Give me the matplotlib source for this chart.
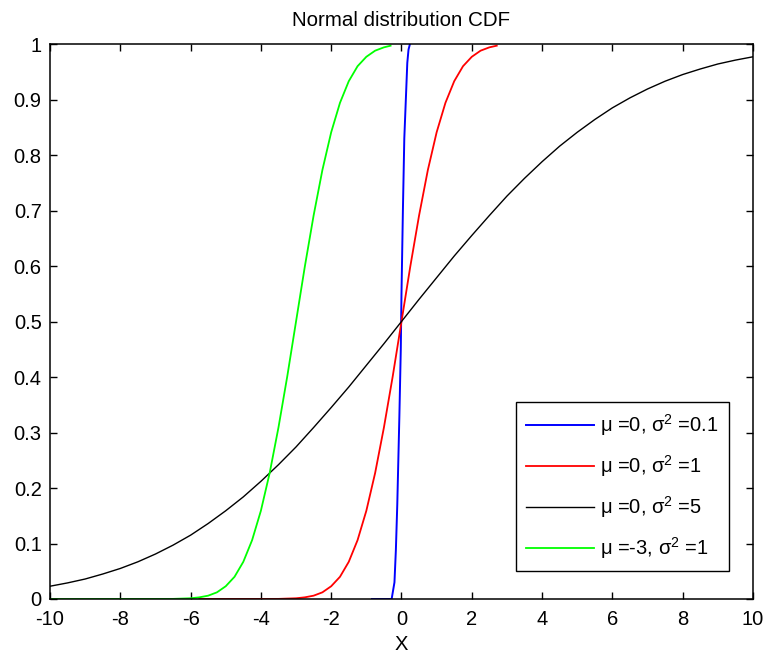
import matplotlib
matplotlib.use("Agg")
import matplotlib.pyplot as plt

plt.rcParams['font.family'] = ['Liberation Sans', 'DejaVu Sans']
plt.rcParams['mathtext.fontset'] = 'custom'
plt.rcParams['mathtext.rm'] = 'Liberation Sans'
plt.rcParams['mathtext.it'] = 'Liberation Sans:italic'
plt.rcParams['axes.unicode_minus'] = False

# values
blue_x = [-0.84, -0.28, -0.2, -0.16, -0.12, -0.06, -0.02, 0.0, 0.04, 0.08, 0.13, 0.165, 0.2, 0.24]
blue_y = [0.0, 0.0, 0.03, 0.088, 0.17, 0.33, 0.45, 0.55, 0.7, 0.83, 0.91, 0.966, 0.99, 1.0]

red_x = [-5.75, -3.5, -3.0, -2.75, -2.5, -2.25, -2.0, -1.75, -1.5, -1.25, -1.0, -0.75, -0.5, -0.25,
         0.0, 0.25, 0.5, 0.75, 1.0, 1.25, 1.5, 1.75, 2.0, 2.25, 2.5, 2.71]
red_y = [0.0, 0.0002, 0.0013, 0.003, 0.006, 0.012, 0.023, 0.040, 0.067, 0.106, 0.159, 0.227, 0.309, 0.401,
         0.5, 0.599, 0.691, 0.773, 0.841, 0.894, 0.933, 0.960, 0.977, 0.988, 0.994, 0.997]

black_x = [-10, -9.5, -9, -8.5, -8, -7.5, -7, -6.5, -6, -5.5, -5, -4.5, -4, -3.5, -3, -2.5, -2, -1.5, -1, -0.5,
           0, 0.5, 1, 1.5, 2, 2.5, 3, 3.5, 4, 4.5, 5, 5.5, 6, 6.5, 7, 7.5, 8, 8.5, 9, 9.5, 10]
black_y = [0.023, 0.029, 0.036, 0.045, 0.055, 0.067, 0.081, 0.097, 0.115, 0.136, 0.159, 0.184, 0.212,
           0.242, 0.274, 0.309, 0.345, 0.382, 0.421, 0.460, 0.5, 0.540, 0.579, 0.618, 0.655, 0.691,
           0.726, 0.758, 0.788, 0.816, 0.841, 0.864, 0.885, 0.903, 0.919, 0.933, 0.945, 0.955, 0.964,
           0.971, 0.977]

green_x = [-10, -6.5, -6.0, -5.75, -5.5, -5.25, -5.0, -4.75, -4.5, -4.25, -4.0, -3.75, -3.5, -3.25,
           -3.0, -2.75, -2.5, -2.25, -2.0, -1.75, -1.5, -1.25, -1.0, -0.75, -0.5, -0.31]
green_y = red_y

labels = [r'μ =0, σ$^2$ =0.1', r'μ =0, σ$^2$ =1', r'μ =0, σ$^2$ =5', r'μ =-3, σ$^2$ =1']

fig = plt.figure(figsize=(7.63, 6.54), dpi=100)
ax = fig.add_axes([0.0655, 0.0841, 0.9214, 0.8486])
ax.plot(blue_x, blue_y, color='#0000ff', lw=1.4, label=labels[0])
ax.plot(red_x, red_y, color='#ff0000', lw=1.3, label=labels[1])
ax.plot(black_x, black_y, color='black', lw=1.0, label=labels[2])
ax.plot(green_x, green_y, color='#00ff00', lw=1.3, label=labels[3])

ax.set_xlim(-10, 10)
ax.set_ylim(0, 1)
ax.set_xticks(range(-10, 11, 2))
ax.set_yticks([i / 10 for i in range(11)])
ax.set_yticklabels(['0'] + ['%.1f' % (i / 10) for i in range(1, 10)] + ['1'])
ax.tick_params(axis='both', direction='in', length=5, width=1, top=True, right=True, labelsize=14.5)
ax.tick_params(axis='x', pad=8)
ax.tick_params(axis='y', pad=6)
for s in ax.spines.values():
    s.set_linewidth(1.1)

ax.set_title('Normal distribution CDF', fontsize=14.8, pad=13)
ax.set_xlabel('X', fontsize=14.5, labelpad=4)

leg = ax.legend(loc='lower right', bbox_to_anchor=(0.966, 0.050), borderaxespad=0,
                fontsize=14.5, handlelength=3.4, handletextpad=0.3, labelspacing=0.75,
                borderpad=0.5, fancybox=False, framealpha=1, edgecolor='black')
leg.get_frame().set_linewidth(1.0)

fig.savefig('out.png', dpi=100)
